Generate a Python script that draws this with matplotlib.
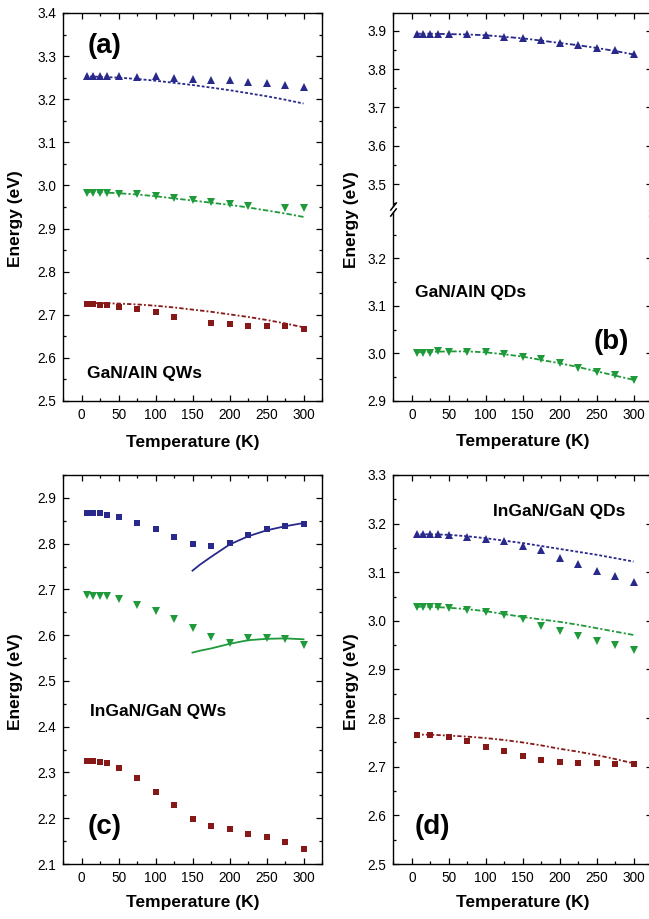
import matplotlib
matplotlib.use('Agg')
import matplotlib.pyplot as plt
from matplotlib.ticker import MultipleLocator

plt.rcParams['font.family'] = ['Liberation Sans', 'DejaVu Sans']

# ---------------- data ----------------
T_full = [7, 15, 25, 35, 50, 75, 100, 125, 150, 175, 200, 225, 250, 275, 300]
T_fit = [5, 25, 50, 75, 100, 125, 150, 175, 200, 225, 250, 275, 300]

# (a) GaN/AlN QWs
a_blue_E = [3.255, 3.255, 3.255, 3.255, 3.253, 3.252, 3.253, 3.250, 3.248, 3.245, 3.245, 3.240, 3.238, 3.234, 3.228]
a_green_T = [7, 15, 25, 35, 50, 75, 100, 125, 150, 175, 200, 225, 275, 300]
a_green_E = [2.983, 2.983, 2.983, 2.983, 2.981, 2.979, 2.975, 2.971, 2.967, 2.961, 2.956, 2.952, 2.948, 2.947]
a_red_T = [7, 15, 25, 35, 50, 75, 100, 125, 175, 200, 225, 250, 275, 300]
a_red_E = [2.726, 2.725, 2.723, 2.722, 2.718, 2.713, 2.706, 2.696, 2.682, 2.678, 2.675, 2.675, 2.675, 2.668]
a_blue_fit = [3.253, 3.252, 3.250, 3.247, 3.243, 3.238, 3.233, 3.227, 3.221, 3.214, 3.207, 3.199, 3.190]
a_green_fit = [2.985, 2.984, 2.982, 2.979, 2.975, 2.970, 2.965, 2.960, 2.955, 2.949, 2.942, 2.935, 2.927]
a_red_fit = [2.727, 2.727, 2.726, 2.724, 2.721, 2.717, 2.712, 2.707, 2.701, 2.695, 2.688, 2.680, 2.671]

# (b) GaN/AlN QDs
b_blue_E = [3.891, 3.891, 3.891, 3.891, 3.892, 3.890, 3.889, 3.884, 3.880, 3.875, 3.869, 3.863, 3.856, 3.849, 3.839]
b_green_E = [3.001, 3.001, 3.001, 3.004, 3.003, 3.003, 3.003, 2.999, 2.993, 2.987, 2.979, 2.970, 2.961, 2.954, 2.944]
b_blue_fit = [3.892, 3.892, 3.891, 3.890, 3.888, 3.884, 3.880, 3.874, 3.868, 3.862, 3.855, 3.847, 3.838]
b_green_fit = [3.002, 3.003, 3.004, 3.004, 3.002, 2.998, 2.993, 2.986, 2.979, 2.971, 2.962, 2.953, 2.944]

# (c) InGaN/GaN QWs
c_blue_E = [2.867, 2.867, 2.867, 2.863, 2.858, 2.845, 2.831, 2.814, 2.799, 2.794, 2.801, 2.819, 2.832, 2.838, 2.844]
c_green_E = [2.688, 2.686, 2.686, 2.685, 2.679, 2.666, 2.652, 2.635, 2.616, 2.595, 2.583, 2.594, 2.594, 2.591, 2.579]
c_red_E = [2.324, 2.324, 2.322, 2.320, 2.309, 2.287, 2.258, 2.230, 2.198, 2.184, 2.176, 2.166, 2.158, 2.147, 2.132]
c_fit_T = [150, 160, 175, 200, 225, 250, 275, 300]
c_blue_fit = [2.741, 2.754, 2.771, 2.798, 2.816, 2.829, 2.838, 2.845]
c_green_fit = [2.562, 2.566, 2.571, 2.581, 2.589, 2.592, 2.593, 2.591]

# (d) InGaN/GaN QDs
d_blue_E = [3.179, 3.179, 3.179, 3.179, 3.177, 3.173, 3.169, 3.164, 3.155, 3.146, 3.129, 3.116, 3.103, 3.092, 3.080]
d_green_E = [3.028, 3.028, 3.028, 3.028, 3.026, 3.022, 3.018, 3.012, 3.004, 2.990, 2.980, 2.969, 2.959, 2.950, 2.941]
d_red_T = [7, 25, 50, 75, 100, 125, 150, 175, 200, 225, 250, 275, 300]
d_red_E = [2.765, 2.765, 2.761, 2.752, 2.741, 2.732, 2.722, 2.713, 2.710, 2.707, 2.707, 2.706, 2.705]
d_blue_fit = [3.178, 3.178, 3.177, 3.174, 3.170, 3.165, 3.160, 3.154, 3.148, 3.142, 3.136, 3.129, 3.122]
d_green_fit = [3.029, 3.029, 3.027, 3.024, 3.020, 3.014, 3.008, 3.003, 2.998, 2.992, 2.985, 2.978, 2.971]
d_red_fit = [2.766, 2.766, 2.764, 2.762, 2.759, 2.755, 2.750, 2.744, 2.737, 2.731, 2.724, 2.716, 2.707]

# ---------------- style ----------------
BLUE = '#29298c'
GREEN = '#1f9a3a'
RED = '#861818'
LS_BLUE = (0, (1.6, 1.1))
LS_GREEN = (0, (3, 1.2, 1.2, 1.2))
LS_RED = (0, (2.4, 1.2, 1.0, 1.2))
TICKFS = 9.8
LABFS = 12.5
TXTFS = 12.5
BIGFS = 20

W, H = 649, 919
fig = plt.figure(figsize=(W / 100, H / 100), dpi=100)


def px_axes(left, top, right, bottom):
    return fig.add_axes([left / W, (H - bottom) / H, (right - left) / W, (bottom - top) / H])


def style(ax, ymaj=0.1, ymin=0.05, top=True, bottom=True, xlabels=True):
    ax.set_xlim(-25, 325)
    ax.xaxis.set_major_locator(MultipleLocator(50))
    ax.xaxis.set_minor_locator(MultipleLocator(25))
    ax.yaxis.set_major_locator(MultipleLocator(ymaj))
    ax.yaxis.set_minor_locator(MultipleLocator(ymin))
    ax.tick_params(which='both', direction='in', left=True, right=True,
                   top=top, bottom=bottom, width=0.9, labelsize=TICKFS,
                   labelbottom=xlabels)
    ax.tick_params(which='major', length=4, pad=5)
    ax.tick_params(which='minor', length=2.2)
    for s in ax.spines.values():
        s.set_linewidth(1.0)
    ax.yaxis.set_major_formatter(matplotlib.ticker.FormatStrFormatter('%.1f'))


def xlabel(ax, y):
    ax.set_xlabel('Temperature (K)', fontsize=LABFS, fontweight='bold')
    ax.xaxis.set_label_coords(0.5, y)
    ax.xaxis.label.set_va('center')


def ylabel(ax, x, y):
    ax.set_ylabel('Energy (eV)', fontsize=LABFS, fontweight='bold')
    ax.yaxis.set_label_coords(x, y)
    ax.yaxis.label.set_va('center')


MS_T = 6.0
MS_S = 4.9

# ---------------- (a) ----------------
ax = px_axes(63, 13, 322, 401)
ax.plot(T_fit, a_blue_fit, color=BLUE, ls=LS_BLUE, lw=1.3, zorder=2)
ax.plot(T_fit, a_green_fit, color=GREEN, ls=LS_GREEN, lw=1.3, zorder=2)
ax.plot(T_fit, a_red_fit, color=RED, ls=LS_RED, lw=1.3, zorder=2)
ax.plot(T_full, a_blue_E, ls='none', marker='^', ms=MS_T, color=BLUE, mew=0, zorder=3)
ax.plot(a_green_T, a_green_E, ls='none', marker='v', ms=MS_T, color=GREEN, mew=0, zorder=3)
ax.plot(a_red_T, a_red_E, ls='none', marker='s', ms=MS_S, color=RED, mew=0, zorder=3)
ax.set_ylim(2.5, 3.4)
style(ax)
xlabel(ax, -0.106)
ylabel(ax, -0.185, 0.469)
ax.text(0.0965, 0.915, '(a)', transform=ax.transAxes, fontsize=BIGFS, fontweight='bold', va='center')
ax.text(0.093, 0.072, 'GaN/AlN QWs', transform=ax.transAxes, fontsize=TXTFS, fontweight='bold', va='center')

# ---------------- (b) broken axis ----------------
axu = px_axes(393.3, 13, 652, 206)
axl = px_axes(393.3, 212, 652, 400.7)
axu.plot(T_fit, b_blue_fit, color=BLUE, ls=LS_GREEN, lw=1.3, zorder=2)
axu.plot(T_full, b_blue_E, ls='none', marker='^', ms=MS_T, color=BLUE, mew=0, zorder=3)
axl.plot(T_fit, b_green_fit, color=GREEN, ls=LS_GREEN, lw=1.3, zorder=2)
axl.plot(T_full, b_green_E, ls='none', marker='v', ms=MS_T, color=GREEN, mew=0, zorder=3)
axu.set_ylim(3.443, 3.946)
axl.set_ylim(2.9, 3.298)
style(axu, bottom=False, xlabels=False)
style(axl, top=False)
axu.spines['bottom'].set_visible(False)
axl.spines['top'].set_visible(False)
brk = dict(marker=[(-1, -1.3), (1, 1.3)], ms=6, ls='none', color='k', mec='k', mew=1.1, clip_on=False)
axu.plot([0, 1], [0, 0], transform=axu.transAxes, **brk)
axl.plot([0, 1], [1, 1], transform=axl.transAxes, **brk)
xlabel(axl, -0.218)
ylabel(axl, -0.160, 0.958)
axl.text(0.084, 0.576, 'GaN/AlN QDs', transform=axl.transAxes, fontsize=TXTFS, fontweight='bold', va='center')
axl.text(0.773, 0.311, '(b)', transform=axl.transAxes, fontsize=BIGFS, fontweight='bold', va='center')

# ---------------- (c) ----------------
ax = px_axes(63, 475, 322, 864)
ax.plot(c_fit_T, c_blue_fit, color=BLUE, ls='-', lw=1.3, zorder=2)
ax.plot(c_fit_T, c_green_fit, color=GREEN, ls='-', lw=1.3, zorder=2)
ax.plot(T_full, c_blue_E, ls='none', marker='s', ms=MS_S, color=BLUE, mew=0, zorder=3)
ax.plot(T_full, c_green_E, ls='none', marker='v', ms=MS_T, color=GREEN, mew=0, zorder=3)
ax.plot(T_full, c_red_E, ls='none', marker='s', ms=MS_S, color=RED, mew=0, zorder=3)
ax.set_ylim(2.1, 2.95)
style(ax)
xlabel(ax, -0.100)
ylabel(ax, -0.185, 0.469)
ax.text(0.104, 0.391, 'InGaN/GaN QWs', transform=ax.transAxes, fontsize=TXTFS, fontweight='bold', va='center')
ax.text(0.0965, 0.095, '(c)', transform=ax.transAxes, fontsize=BIGFS, fontweight='bold', va='center')

# ---------------- (d) ----------------
ax = px_axes(393.3, 475, 652, 864)
ax.plot(T_fit, d_blue_fit, color=BLUE, ls=LS_BLUE, lw=1.3, zorder=2)
ax.plot(T_fit, d_green_fit, color=GREEN, ls=LS_GREEN, lw=1.3, zorder=2)
ax.plot(T_fit, d_red_fit, color=RED, ls=LS_RED, lw=1.3, zorder=2)
ax.plot(T_full, d_blue_E, ls='none', marker='^', ms=MS_T, color=BLUE, mew=0, zorder=3)
ax.plot(T_full, d_green_E, ls='none', marker='v', ms=MS_T, color=GREEN, mew=0, zorder=3)
ax.plot(d_red_T, d_red_E, ls='none', marker='s', ms=MS_S, color=RED, mew=0, zorder=3)
ax.set_ylim(2.5, 3.3)
style(ax)
xlabel(ax, -0.100)
ylabel(ax, -0.161, 0.469)
ax.text(0.385, 0.905, 'InGaN/GaN QDs', transform=ax.transAxes, fontsize=TXTFS, fontweight='bold', va='center')
ax.text(0.084, 0.095, '(d)', transform=ax.transAxes, fontsize=BIGFS, fontweight='bold', va='center')

fig.savefig('out.png', dpi=100)
